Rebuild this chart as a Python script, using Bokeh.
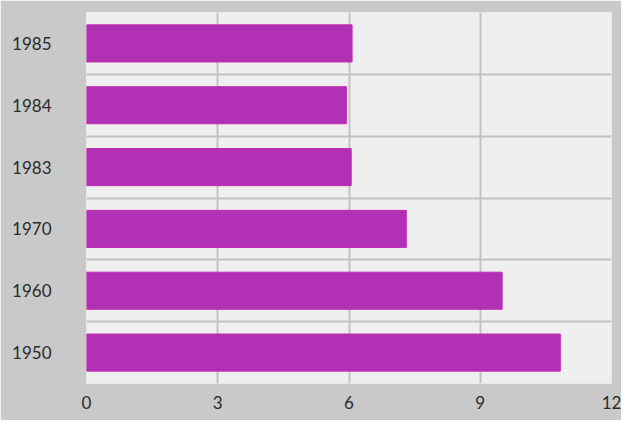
from bokeh.plotting import figure
from bokeh.models import ColumnDataSource, FixedTicker, Range1d
from bokeh.embed import file_html
from bokeh.resources import INLINE

# data (bottom to top)
years = ["1950", "1960", "1970", "1983", "1984", "1985"]
values = [10.83, 9.5, 7.31, 6.05, 5.94, 6.07]
x_ticks = [0, 3, 6, 9, 12]

pos = [i + 0.5 for i in range(len(years))]
src = ColumnDataSource(dict(y=pos, right=values, year=years))

p = figure(frame_width=525, frame_height=371, output_backend="svg",
           toolbar_location=None, x_range=Range1d(0, 12),
           y_range=Range1d(0, len(years)),
           min_border_left=86, min_border_right=10, min_border_top=12,
           min_border_bottom=37)
p.background_fill_color = "#efefef"
p.border_fill_color = "#c9c9c9"
p.outline_line_color = None

p.hbar(y="y", left=0, right="right", height=0.6, source=src,
       fill_color="#b230b4", line_color="#c02cb0", line_width=1)

font = "Lato"
p.xaxis.ticker = FixedTicker(ticks=x_ticks)
p.yaxis.ticker = FixedTicker(ticks=pos)
p.yaxis.major_label_overrides = {pv: yr for pv, yr in zip(pos, years)}
for ax in (p.xaxis[0], p.yaxis[0]):
    ax.axis_line_color = None
    ax.major_tick_line_color = None
    ax.minor_tick_line_color = None
    ax.major_tick_out = 0
    ax.major_tick_in = 0
    ax.major_label_text_font = font
    ax.major_label_text_font_size = "17px"
    ax.major_label_text_color = "#2b2b2b"
p.xaxis.major_label_standoff = 12
p.yaxis.major_label_standoff = 35

p.xgrid.ticker = FixedTicker(ticks=[3, 6, 9])
p.xgrid.grid_line_color = "#c2c2c2"
p.xgrid.grid_line_width = 2
p.ygrid.ticker = FixedTicker(ticks=list(range(1, len(years))))
p.ygrid.grid_line_color = "#c2c2c2"
p.ygrid.grid_line_width = 2

open("out.html", "w").write(file_html(p, INLINE))
